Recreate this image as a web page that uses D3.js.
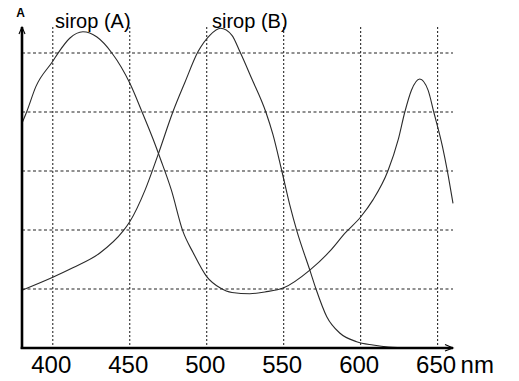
<!DOCTYPE html>
<html>
<head>
<meta charset="utf-8">
<script src="https://cdn.jsdelivr.net/npm/d3@7"></script>
<style>
  body { margin: 0; background: #fff; }
  svg { display: block; font-family: "Liberation Sans", Arial, sans-serif; }
</style>
</head>
<body>
<div id="chart"></div>
<script>
const lambdaA = [380, 383, 389, 400, 404, 411, 419.6, 428.7, 438.4, 450, 458, 465, 470, 477, 484.5, 491.3, 500, 508.6, 516.4, 528, 537.8, 550, 567, 580, 590, 600, 608, 617.7, 624.4, 628.7, 633, 638.4, 643.8, 647.5, 653.2, 656.2, 660];
const absA    = [3.81, 4.0, 4.43, 4.86, 5.02, 5.25, 5.36, 5.27, 5.0, 4.49, 4.0, 3.55, 3.2, 2.68, 1.98, 1.61, 1.21, 1.02, 0.94, 0.92, 0.95, 1.02, 1.32, 1.64, 1.95, 2.22, 2.51, 3.0, 3.53, 4.0, 4.37, 4.56, 4.37, 4.0, 3.41, 3.02, 2.45];

const lambdaB = [380, 400, 413, 430.6, 445.6, 450, 460, 468.3, 478, 485.8, 494.3, 502, 509, 516.4, 521.6, 529, 538.4, 543, 548.8, 554, 558.6, 567, 571, 578, 586.6, 597.4, 608, 618, 632];
const absB    = [0.98, 1.2, 1.36, 1.61, 1.98, 2.14, 2.68, 3.27, 4.0, 4.5, 5.02, 5.3, 5.42, 5.3, 5.02, 4.58, 4.0, 3.62, 3.0, 2.42, 1.98, 1.32, 1.0, 0.53, 0.25, 0.107, 0.05, 0.015, 0.0];

const xTicks = [400, 450, 500, 550, 600, 650];
const yGrid  = [1, 2, 3, 4, 5];
const labels = ["sirop (A)", "sirop (B)"];
const labelLambda = [426, 528];

const width = 519, height = 381;

const x = d3.scaleLinear().domain([380, 660]).range([22, 453]);
const y = d3.scaleLinear().domain([0, 5.5]).range([348, 23.5]);

const svg = d3.select("#chart").append("svg")
  .attr("width", width)
  .attr("height", height);

// quadrillage horizontal (tirets)
svg.append("g").selectAll("line")
  .data(yGrid)
  .enter().append("line")
  .attr("x1", x(380)).attr("x2", x(660))
  .attr("y1", d => y(d)).attr("y2", d => y(d))
  .attr("stroke", "#222")
  .attr("stroke-width", 1.1)
  .attr("stroke-dasharray", "3,2.5");

// quadrillage vertical (pointillés)
svg.append("g").selectAll("line")
  .data(xTicks)
  .enter().append("line")
  .attr("x1", d => x(d)).attr("x2", d => x(d))
  .attr("y1", y(5.44)).attr("y2", y(0.05))
  .attr("stroke", "#2a2a2a")
  .attr("stroke-width", 1.1)
  .attr("stroke-dasharray", "2,2");

// courbes
const line = d3.line()
  .x(d => x(d[0]))
  .y(d => y(d[1]))
  .curve(d3.curveMonotoneX);

const series = [d3.zip(lambdaA, absA), d3.zip(lambdaB, absB)];
svg.append("g").selectAll("path")
  .data(series)
  .enter().append("path")
  .attr("d", line)
  .attr("fill", "none")
  .attr("stroke", "#2a2a2a")
  .attr("stroke-width", 1.1);

// axes avec flèches
svg.append("line")
  .attr("x1", x(380)).attr("x2", x(380))
  .attr("y1", y(0) + 1).attr("y2", y(5.44))
  .attr("stroke", "#000").attr("stroke-width", 2.6);
svg.append("line")
  .attr("x1", x(380) - 1.3).attr("x2", x(660))
  .attr("y1", y(0)).attr("y2", y(0))
  .attr("stroke", "#000").attr("stroke-width", 2.4);

svg.append("path")
  .attr("d", `M${x(380) - 3},${y(5.44) + 7} L${x(380)},${y(5.44)} L${x(380) + 3},${y(5.44) + 7}`)
  .attr("fill", "none").attr("stroke", "#000").attr("stroke-width", 1.1);
svg.append("path")
  .attr("d", `M${x(660) - 8},${y(0) - 3.5} L${x(660)},${y(0)} L${x(660) - 8},${y(0) + 3}`)
  .attr("fill", "none").attr("stroke", "#000").attr("stroke-width", 1.1);

// graduations
const xAxis = d3.axisBottom(x).tickValues(xTicks).tickSize(0).tickPadding(8);
const gx = svg.append("g")
  .attr("transform", `translate(0,${y(0)})`)
  .call(xAxis);
gx.select(".domain").remove();
gx.selectAll("text")
  .attr("font-family", "'Liberation Sans', Arial, sans-serif")
  .attr("font-size", 24)
  .attr("fill", "#000")
  .attr("dx", -2);

svg.append("text")
  .attr("x", x(650) + 23)
  .attr("y", 373)
  .attr("font-size", 24)
  .text("nm");

svg.append("text")
  .attr("x", x(380) - 1.5)
  .attr("y", 17)
  .attr("text-anchor", "middle")
  .attr("font-size", 12)
  .attr("font-weight", "bold")
  .text("A");

// étiquettes des sirops
svg.append("g").selectAll("text")
  .data(labels)
  .enter().append("text")
  .attr("x", (d, i) => x(labelLambda[i]))
  .attr("y", 27.5)
  .attr("text-anchor", "middle")
  .attr("font-size", 20)
  .text(d => d);
</script>
</body>
</html>
